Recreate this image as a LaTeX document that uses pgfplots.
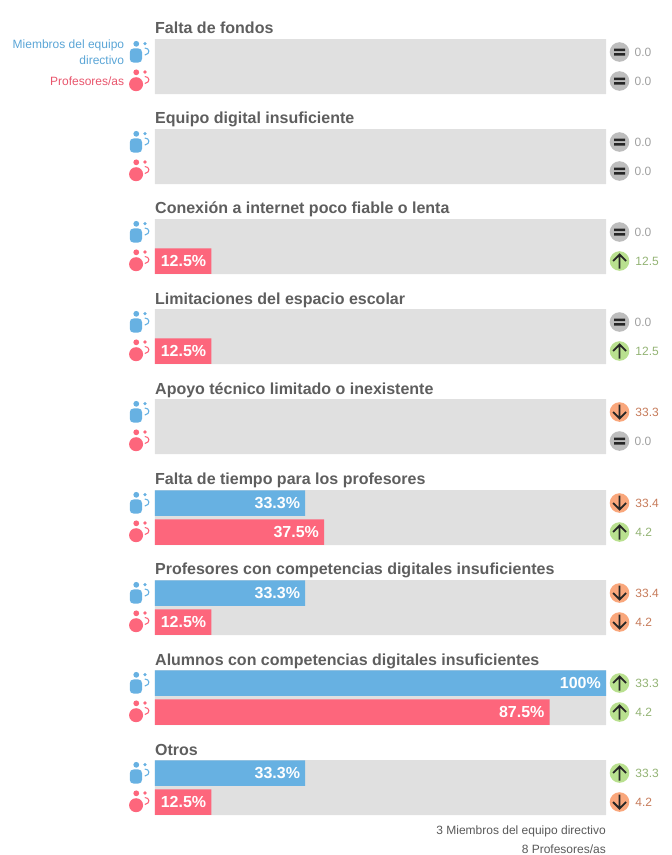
\documentclass[border=0pt]{standalone}
\usepackage{pgfplots}
\pgfplotsset{compat=1.18}
\usepackage{fontspec}
\setmainfont{Liberation Sans}
\definecolor{bgbar}{HTML}{E0E0E0}
\definecolor{blueb}{HTML}{67B1E2}
\definecolor{redb}{HTML}{FD667C}
\definecolor{bluet}{HTML}{5AA5D6}
\definecolor{redt}{HTML}{E8556C}
\definecolor{titlec}{HTML}{5E5E5E}
\definecolor{eqc}{HTML}{BDBDBD}
\definecolor{upc}{HTML}{B9E08F}
\definecolor{downc}{HTML}{F9A77C}
\definecolor{eqt}{HTML}{A0A0A0}
\definecolor{upt}{HTML}{93B374}
\definecolor{downt}{HTML}{C67B5A}
\pgfdeclareplotmark{eqm}{%
  \pgfsetfillcolor{eqc}\pgfpathcircle{\pgfpointorigin}{9.8pt}\pgfusepathqfill
  \pgfsetfillcolor{black!85}
  \pgfpathrectangle{\pgfpoint{-5.5pt}{1pt}}{\pgfpoint{11pt}{2.5pt}}
  \pgfpathrectangle{\pgfpoint{-5.5pt}{-3.5pt}}{\pgfpoint{11pt}{2.5pt}}\pgfusepathqfill}
\pgfdeclareplotmark{upm}{%
  \pgfsetfillcolor{upc}\pgfpathcircle{\pgfpointorigin}{9.8pt}\pgfusepathqfill
  \pgfsetstrokecolor{black!85}\pgfsetlinewidth{1.8pt}
  \pgfpathmoveto{\pgfpoint{0pt}{-7.5pt}}\pgfpathlineto{\pgfpoint{0pt}{6.5pt}}
  \pgfpathmoveto{\pgfpoint{-6.5pt}{0pt}}\pgfpathlineto{\pgfpoint{0pt}{6.5pt}}\pgfpathlineto{\pgfpoint{6.5pt}{0pt}}\pgfusepathqstroke}
\pgfdeclareplotmark{downm}{%
  \pgfsetfillcolor{downc}\pgfpathcircle{\pgfpointorigin}{9.8pt}\pgfusepathqfill
  \pgfsetstrokecolor{black!85}\pgfsetlinewidth{1.8pt}
  \pgfpathmoveto{\pgfpoint{0pt}{7.5pt}}\pgfpathlineto{\pgfpoint{0pt}{-6.5pt}}
  \pgfpathmoveto{\pgfpoint{-6.5pt}{0pt}}\pgfpathlineto{\pgfpoint{0pt}{-6.5pt}}\pgfpathlineto{\pgfpoint{6.5pt}{0pt}}\pgfusepathqstroke}
\pgfdeclareplotmark{bluep}{%
  \pgfsetfillcolor{blueb}\pgfsetstrokecolor{blueb}
  \pgfpathcircle{\pgfpoint{-2.5pt}{8.2pt}}{2.9pt}\pgfusepathqfill
  \pgfpathcircle{\pgfpoint{6.2pt}{8.4pt}}{1.8pt}\pgfusepathqfill
  \pgfsetlinewidth{1.1pt}
  \pgfpathmoveto{\pgfpoint{6pt}{4pt}}\pgfpathcurveto{\pgfpoint{11pt}{4pt}}{\pgfpoint{12pt}{-2pt}}{\pgfpoint{6pt}{-3pt}}\pgfusepathqstroke
  \pgfpathmoveto{\pgfpoint{-5pt}{3.6pt}}
  \pgfpathlineto{\pgfpoint{-0.7pt}{3.6pt}}
  \pgfpathcurveto{\pgfpoint{1.8pt}{3.6pt}}{\pgfpoint{3.3pt}{2.1pt}}{\pgfpoint{3.3pt}{-0.4pt}}
  \pgfpathlineto{\pgfpoint{3.3pt}{-6.6pt}}
  \pgfpathcurveto{\pgfpoint{3.3pt}{-9.1pt}}{\pgfpoint{1.8pt}{-10.6pt}}{\pgfpoint{-0.7pt}{-10.6pt}}
  \pgfpathlineto{\pgfpoint{-5pt}{-10.6pt}}
  \pgfpathcurveto{\pgfpoint{-7.5pt}{-10.6pt}}{\pgfpoint{-9pt}{-9.1pt}}{\pgfpoint{-9pt}{-6.6pt}}
  \pgfpathlineto{\pgfpoint{-9pt}{-0.4pt}}
  \pgfpathcurveto{\pgfpoint{-9pt}{2.1pt}}{\pgfpoint{-7.5pt}{3.6pt}}{\pgfpoint{-5pt}{3.6pt}}
  \pgfpathclose\pgfusepathqfill}
\pgfdeclareplotmark{redp}{%
  \pgfsetfillcolor{redb}\pgfsetstrokecolor{redb}
  \pgfpathcircle{\pgfpoint{-2.5pt}{8.7pt}}{2.9pt}\pgfusepathqfill
  \pgfpathcircle{\pgfpoint{6.2pt}{9pt}}{1.8pt}\pgfusepathqfill
  \pgfsetlinewidth{1.1pt}
  \pgfpathmoveto{\pgfpoint{6pt}{4.5pt}}\pgfpathcurveto{\pgfpoint{11pt}{4.5pt}}{\pgfpoint{12pt}{-1.5pt}}{\pgfpoint{6pt}{-2.5pt}}\pgfusepathqstroke
  \pgfpathcircle{\pgfpoint{-2.7pt}{-3.2pt}}{7pt}\pgfusepathqfill}
\begin{document}
\begin{tikzpicture}[x=1pt,y=1pt]
\path[use as bounding box] (0,0) rectangle (672,855);
\begin{axis}[
  at={(155pt,0pt)},anchor=south west,
  scale only axis,width=451pt,height=855pt,
  xmin=0,xmax=100,ymin=0,ymax=855,y dir=reverse,
  axis lines=none,clip=false,
  xbar,bar width=25.5pt,bar shift=0pt,
  nodes near coords style={font=\bfseries\fontsize{16}{18}\selectfont,text=white,anchor=east,inner sep=5pt},
  every axis plot/.append style={forget plot},
]
% grey tracks
\addplot[draw=none,fill=bgbar,bar width=55pt] coordinates {
(100,66.5)(100,156.5)(100,246.5)(100,336.5)(100,426.5)(100,517.5)(100,607.5)(100,697.5)(100,787.5)};
% blue bars
\addplot[draw=none,fill=blueb,nodes near coords={\pgfmathprintnumber[fixed,precision=1,assume math mode=true]{\pgfplotspointmeta}\%},point meta=explicit,
  ] coordinates {(33.3,503)[33.3](33.3,593)[33.3](100,683)[100](33.3,773)[33.3]};
% red bars
\addplot[draw=none,fill=redb,nodes near coords={\pgfmathprintnumber[fixed,precision=1,assume math mode=true]{\pgfplotspointmeta}\%},point meta=explicit,
  ] coordinates {(12.5,261)[12.5](12.5,351)[12.5](37.5,532)[37.5](12.5,622)[12.5](87.5,712)[87.5](12.5,802)[12.5]};
% people icons
\addplot[xbar=false,only marks,mark=bluep] coordinates {(-3.6,52)(-3.6,142)(-3.6,232)(-3.6,322)(-3.6,412)(-3.6,503)(-3.6,593)(-3.6,683)(-3.6,773)};
\addplot[xbar=false,only marks,mark=redp] coordinates {(-3.6,81)(-3.6,171)(-3.6,261)(-3.6,351)(-3.6,441)(-3.6,532)(-3.6,622)(-3.6,712)(-3.6,802)};
% change indicators
\pgfplotsset{chg/.style={xbar=false,only marks,point meta=explicit,
  nodes near coords={\pgfmathprintnumber[fixed,fixed zerofill,precision=1,assume math mode=true]{\pgfplotspointmeta}},
  nodes near coords style={font=\fontsize{12}{14}\selectfont,anchor=west,inner sep=0pt,xshift=15pt,yshift=0pt,text=#1}}}
\addplot[chg=eqt,mark=eqm] coordinates {(103,52)[0](103,81)[0](103,142)[0](103,171)[0](103,232)[0](103,322)[0](103,441)[0]};
\addplot[chg=upt,mark=upm] coordinates {(103,261)[12.5](103,351)[12.5](103,532)[4.2](103,683)[33.3](103,712)[4.2](103,773)[33.3]};
\addplot[chg=downt,mark=downm] coordinates {(103,412)[33.3](103,503)[33.4](103,593)[33.4](103,622)[4.2](103,802)[4.2]};
% titles
\begin{scope}[every node/.style={anchor=base west,inner sep=0pt,font=\bfseries\fontsize{16}{18}\selectfont,text=titlec}]
\node at (axis cs:0,33) {Falta de fondos};
\node at (axis cs:0,123) {Equipo digital insuficiente};
\node at (axis cs:0,213) {Conexión a internet poco fiable o lenta};
\node at (axis cs:0,304) {Limitaciones del espacio escolar};
\node at (axis cs:0,394) {Apoyo técnico limitado o inexistente};
\node at (axis cs:0,484) {Falta de tiempo para los profesores};
\node at (axis cs:0,574) {Profesores con competencias digitales insuficientes};
\node at (axis cs:0,665) {Alumnos con competencias digitales insuficientes};
\node at (axis cs:0,755) {Otros};
\end{scope}
\node[anchor=east,align=right,inner sep=0pt,text=bluet,font=\fontsize{12}{16}\selectfont] at (axis cs:-6.8,52) {Miembros del equipo\\directivo};
\node[anchor=east,inner sep=0pt,text=redt,font=\fontsize{12}{16}\selectfont] at (axis cs:-6.8,81) {Profesores/as};
\node[anchor=base east,inner sep=0pt,text=black!65,font=\fontsize{12}{14}\selectfont] at (axis cs:100,834) {3 Miembros del equipo directivo};
\node[anchor=base east,inner sep=0pt,text=black!65,font=\fontsize{12}{14}\selectfont] at (axis cs:100,853) {8 Profesores/as};
\end{axis}
\end{tikzpicture}
\end{document}
